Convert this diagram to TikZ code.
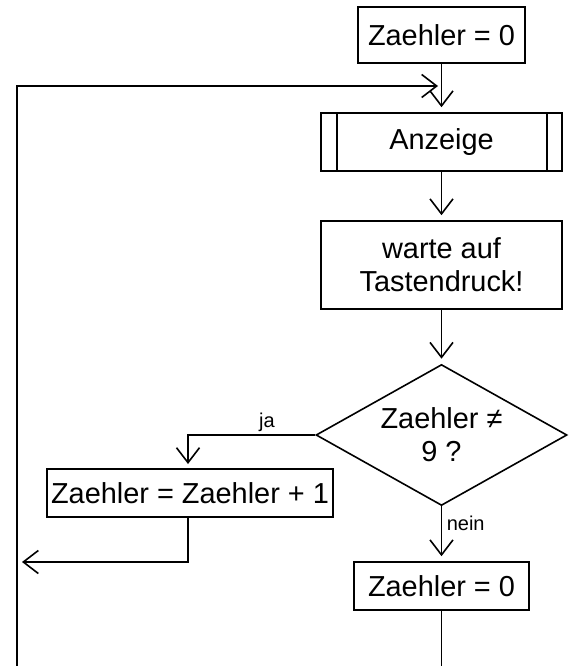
\documentclass[tikz,border=0pt]{standalone}
\usepackage{fontspec}
\setmainfont{Liberation Sans}
\usetikzlibrary{arrows.meta,shapes.geometric}
\begin{document}
\begin{tikzpicture}[x=1bp,y=-1bp,
  every path/.style={line width=1.6bp},
  box/.style={draw,rectangle,inner sep=0pt,align=center,font=\fontsize{28.9bp}{33bp}\selectfont},
  lbl/.style={inner sep=0pt,font=\fontsize{20bp}{23bp}\selectfont},
  flow/.style={-{Straight Barb[length=15bp,width=23bp,line width=1.6bp]}},
  gap/.style={flow,shorten >=5bp}]
\useasboundingbox (0,0) rectangle (572,666);
\node[box,minimum width=167bp,minimum height=56bp] (top) at (441.5,35) {Zaehler = 0};
\node[box,minimum width=241bp,minimum height=58bp] (anz) at (441.5,142) {Anzeige};
\draw ([xshift=17bp]anz.north west) -- ([xshift=17bp]anz.south west);
\draw ([xshift=-16bp]anz.north east) -- ([xshift=-16bp]anz.south east);
\node[box,minimum width=241bp,minimum height=88bp] (warte) at (441.5,265) {warte auf\\Tastendruck!};
\node[box,shape=diamond,aspect=1.78,minimum width=251bp,minimum height=141bp] (dia) at (441.5,435) {Zaehler ≠\\9 ?};
\node[box,minimum width=286bp,minimum height=48bp] (inc) at (190,493) {Zaehler = Zaehler + 1};
\node[box,minimum width=175bp,minimum height=48bp] (bot) at (441.5,586) {Zaehler = 0};
\coordinate (lt) at (17,86);
\coordinate (lb) at (17,690);
\coordinate (tipL) at (438,86);
\coordinate (ret) at (22,562);
\draw[gap] (top) -- (anz);
\draw[gap] (anz) -- (warte);
\draw[gap] (warte) -- (dia);
\draw[gap] (dia.west) -| (188,469);
\draw[flow] (188,517) |- (ret);
\draw[gap] (dia.south) -- (bot.north);
\draw[flow] (bot.south) -- (bot.south |- lb) -- (lb) -- (lt) -- (tipL);
\node[lbl] (ja) at (267,422) {ja};
\node[lbl,anchor=west] (nein) at (446,523) {nein};
\end{tikzpicture}
\end{document}
